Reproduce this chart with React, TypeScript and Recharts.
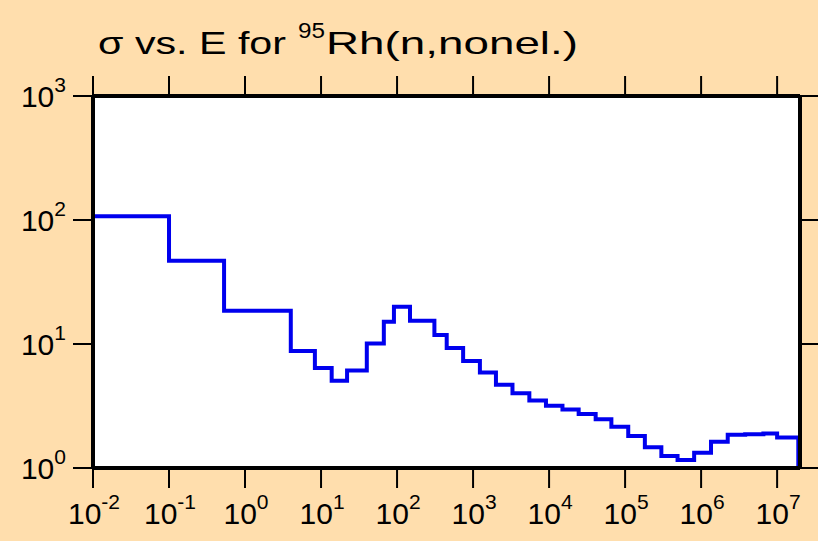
import { CartesianGrid, Line, LineChart, XAxis, YAxis } from 'recharts';

// bin edges (eV) and cross sections (b)
const binEdges = [
    0.01, 0.1, 0.53, 4.0, 8.3, 13.8, 22, 40, 67, 91, 148, 310, 450, 740, 1230, 2000, 3300, 5500, 9100, 15000, 24500, 41000, 66000,
    110000, 182000, 300000, 490000, 810000, 1.35e6, 2.24e6, 3.8e6, 6.6e6, 1e7, 1.9e7,
];
const sigma = [
    107, 47, 18.5, 8.8, 6.4, 5.06, 6.1, 10.1, 15.1, 20.0, 15.4, 11.8, 9.3, 7.3, 5.9, 4.7, 4.0, 3.5, 3.18, 2.97, 2.72, 2.47, 2.15,
    1.81, 1.47, 1.25, 1.16, 1.33, 1.63, 1.85, 1.87, 1.9, 1.76,
];
const xTicks = [1e-2, 1e-1, 1e0, 1e1, 1e2, 1e3, 1e4, 1e5, 1e6, 1e7];
const xExponents = ['-2', '-1', '0', '1', '2', '3', '4', '5', '6', '7'];
const yTicks = [1, 10, 100, 1000];
const yExponents = ['0', '1', '2', '3'];

const BG = '#FFDEAD';
const FONT = '"Liberation Sans", Arial, sans-serif';

// step histogram: rise from the floor at the first edge, drop back at the last
const data = [
    { e: binEdges[0], s: 1 },
    ...sigma.map((s, i) => ({ e: binEdges[i], s })),
    { e: binEdges[binEdges.length - 1], s: sigma[sigma.length - 1] },
    { e: binEdges[binEdges.length - 1], s: 1 },
];

function PowerLabel({ base, exp, x, y, anchor }: { base: string; exp: string; x: number; y: number; anchor: 'middle' | 'end' }) {
    return (
        <text x={x} y={y} textAnchor={anchor} fontFamily={FONT} fontSize={30} fill='#000'>
            {base}
            <tspan dy={-15} fontSize={21}>
                {exp}
            </tspan>
        </text>
    );
}

function BottomTick(props: any) {
    const i = xTicks.indexOf(props.payload.value);
    return <PowerLabel base='10' exp={xExponents[i] ?? ''} x={props.x + 1} y={props.y + 34} anchor='middle' />;
}

function LeftTick(props: any) {
    const i = yTicks.indexOf(props.payload.value);
    return <PowerLabel base='10' exp={yExponents[i] ?? ''} x={props.x - 5} y={props.y + 11} anchor='end' />;
}

const NoLabel = () => <g />;

export default function App() {
    const axisLine = { stroke: '#000', strokeWidth: 4 };
    const tickLine = { stroke: '#000', strokeWidth: 2 };
    return (
        <div style={{ position: 'absolute', left: 0, top: 0, width: 818, height: 541, background: BG }}>
            <LineChart width={818} height={541} data={data} margin={{ top: 0, right: 0, bottom: 0, left: 0 }}>
                <CartesianGrid fill='#fff' horizontal={false} vertical={false} />
                <XAxis
                    xAxisId='bottom'
                    dataKey='e'
                    type='number'
                    scale='log'
                    domain={[0.01, 2e7]}
                    ticks={xTicks}
                    allowDataOverflow
                    height={73}
                    axisLine={axisLine}
                    tickLine={tickLine}
                    tickSize={20}
                    tick={<BottomTick />}
                    interval={0}
                />
                <XAxis
                    xAxisId='top'
                    orientation='top'
                    dataKey='e'
                    type='number'
                    scale='log'
                    domain={[0.01, 2e7]}
                    ticks={xTicks}
                    allowDataOverflow
                    height={96}
                    axisLine={axisLine}
                    tickLine={tickLine}
                    tickSize={20}
                    tick={<NoLabel />}
                    interval={0}
                />
                <YAxis
                    yAxisId='left'
                    type='number'
                    scale='log'
                    domain={[1, 1000]}
                    ticks={yTicks}
                    allowDataOverflow
                    width={93}
                    axisLine={axisLine}
                    tickLine={tickLine}
                    tickSize={20}
                    tick={<LeftTick />}
                    interval={0}
                />
                <YAxis
                    yAxisId='right'
                    orientation='right'
                    type='number'
                    scale='log'
                    domain={[1, 1000]}
                    ticks={yTicks}
                    allowDataOverflow
                    width={18}
                    axisLine={axisLine}
                    tickLine={tickLine}
                    tickSize={20}
                    tick={<NoLabel />}
                    interval={0}
                />
                <Line
                    xAxisId='bottom'
                    yAxisId='left'
                    type='stepAfter'
                    dataKey='s'
                    stroke='#0000ee'
                    strokeWidth={4}
                    dot={false}
                    activeDot={false}
                    isAnimationActive={false}
                />
            </LineChart>
            <svg width={818} height={80} style={{ position: 'absolute', left: 0, top: 0, pointerEvents: 'none' }}>
                <g fontFamily={FONT} fill='#000'>
                    <text x={98} y={54} fontSize={32} textLength={188} lengthAdjust='spacingAndGlyphs'>
                        σ vs. E for
                    </text>
                    <text x={298} y={38} fontSize={22} textLength={27} lengthAdjust='spacingAndGlyphs'>
                        95
                    </text>
                    <text x={326} y={54} fontSize={32} textLength={252} lengthAdjust='spacingAndGlyphs'>
                        Rh(n,nonel.)
                    </text>
                </g>
            </svg>
        </div>
    );
}
